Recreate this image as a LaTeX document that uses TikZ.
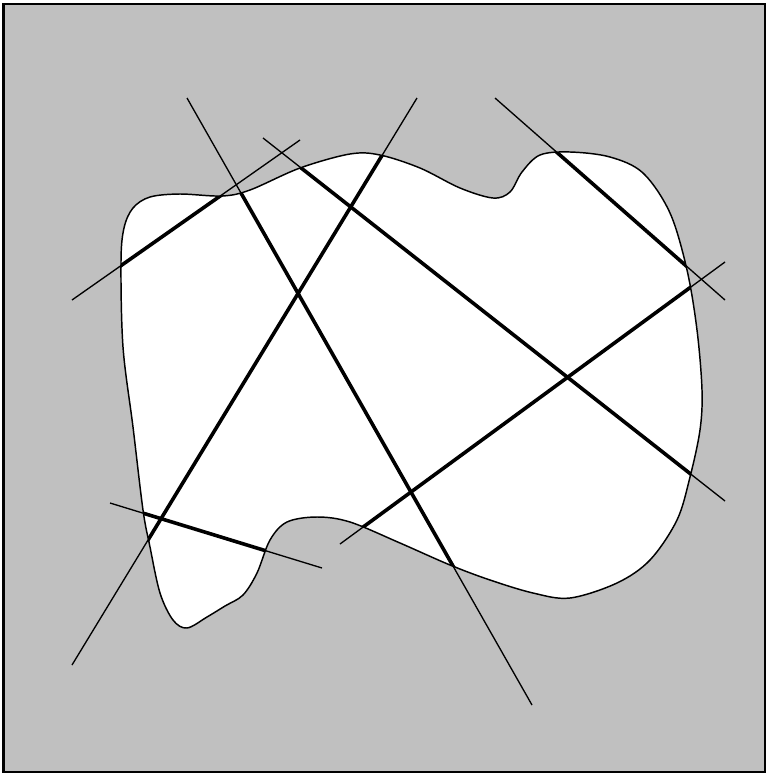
\documentclass[tikz,border=0pt]{standalone}
\begin{document}
\begin{tikzpicture}[x=0.75pt,y=-0.75pt,
  thinline/.style={line width=1pt,line cap=butt},
  thickline/.style={line width=2.7pt,line cap=butt},
  outline/.style={line width=1.1pt}]
\useasboundingbox (0,0) rectangle (767,775);
\definecolor{bggray}{RGB}{192,192,192}
\draw[line width=1.6pt,fill=bggray] (3.5,4) rectangle (765,772);
\def\blobpath{plot[smooth cycle,tension=0.55] coordinates {
 (121,262) (124,228) (133,208) (150,197) (180,194) (222,196) (250,190)
 (300,168) (350,154) (380,155) (420,168) (460,188) (493,198) (510,192)
 (522,172) (540,155) (570,152) (610,157) (643,173) (670,213) (687,270)
 (697,330) (702,390) (700,430) (690,477) (677,520) (650,560) (617,583)
 (570,598) (533,593) (490,580) (450,565) (400,543) (350,522) (317,517)
 (287,522) (270,540) (257,573) (243,595) (225,606) (207,617) (187,628)
 (173,620) (160,593) (150,547) (143,510) (133,427) (123,347)}}
\fill[white] \blobpath;
\coordinate (a1) at (187,98);  \coordinate (b1) at (532,705);
\coordinate (a2) at (417,98);  \coordinate (b2) at (72,665);
\coordinate (a3) at (263,138); \coordinate (b3) at (725,501);
\coordinate (a4) at (495,98);  \coordinate (b4) at (725,300);
\coordinate (a5) at (72,300);  \coordinate (b5) at (300,140);
\coordinate (a6) at (110,503); \coordinate (b6) at (322,568);
\coordinate (a7) at (340,544); \coordinate (b7) at (725,262);
\foreach \i in {1,...,7} \draw[thinline] (a\i) -- (b\i);
\begin{scope}
\clip \blobpath;
\foreach \i in {1,...,7} \draw[thickline] (a\i) -- (b\i);
\end{scope}
\draw[outline] \blobpath;
\end{tikzpicture}
\end{document}
